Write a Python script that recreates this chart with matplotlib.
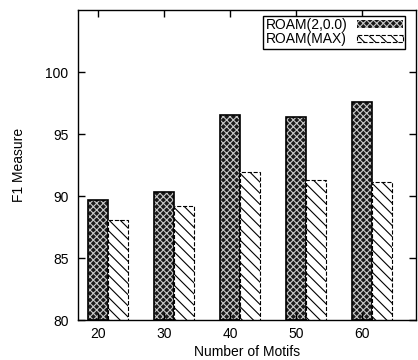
import numpy as np
import matplotlib
matplotlib.use('Agg')
import matplotlib.pyplot as plt
import matplotlib.patches as mpatches

plt.rcParams['font.family'] = ['Liberation Sans', 'DejaVu Sans']
plt.rcParams['font.size'] = 10
plt.rcParams['hatch.linewidth'] = 0.8

# data
motifs = ['20', '30', '40', '50', '60']
roam_200 = [89.7, 90.3, 96.5, 96.4, 97.55]
roam_max = [88.1, 89.2, 91.95, 91.3, 91.1]

fig = plt.figure(figsize=(4.18, 3.6), dpi=100)
ax = fig.add_axes([0.187, 0.111, 0.808, 0.861])

x = np.arange(len(motifs))
w = 0.3

# series 1: dark checker
ax.bar(x, np.array(roam_200) - 80, w, bottom=80, color='#1a1a1a',
       hatch='xxxxx', edgecolor='#c8c8c8', linewidth=0)
ax.bar(x, np.array(roam_200) - 80, w, bottom=80, fill=False,
       edgecolor='black', linewidth=1.2)
# series 2: white with diagonal lines, dashed border
ax.bar(x + w, np.array(roam_max) - 80, w, bottom=80, color='white',
       hatch='\\\\\\', edgecolor='black', linewidth=0)
ax.bar(x + w, np.array(roam_max) - 80, w, bottom=80, fill=False,
       edgecolor='black', linewidth=0.8, linestyle='--')

# legend proxies
h1 = mpatches.Patch(facecolor='#1a1a1a', hatch='xxxxx', edgecolor='#c8c8c8', linewidth=0)
h2 = mpatches.Patch(facecolor='white', hatch='\\\\\\', edgecolor='black', linewidth=0.8, linestyle='--')
leg = ax.legend([h1, h2], ['ROAM(2,0.0)', 'ROAM(MAX)'], loc='upper right',
                bbox_to_anchor=(0.967, 0.982),
                markerfirst=False, fancybox=False, framealpha=1, edgecolor='black',
                handlelength=3.3, handleheight=0.5, labelspacing=0.05,
                borderpad=0.15, handletextpad=0.7, borderaxespad=0.0, fontsize=10)
leg.get_frame().set_linewidth(1.0)

ax.set_xlim(-0.30, 4.82)
ax.set_ylim(80, 105)
ax.set_xticks(x)
ax.set_xticklabels(motifs)
ax.set_yticks([80, 85, 90, 95, 100])
ax.tick_params(direction='in', top=True, right=True, length=5, width=1, pad=7)
ax.tick_params(axis='x', pad=5)
for s in ax.spines.values():
    s.set_linewidth(1.0)

ax.set_xlabel('Number of Motifs', labelpad=3)
ax.set_ylabel('F1 Measure', labelpad=14)

fig.savefig('out.png', dpi=100)
